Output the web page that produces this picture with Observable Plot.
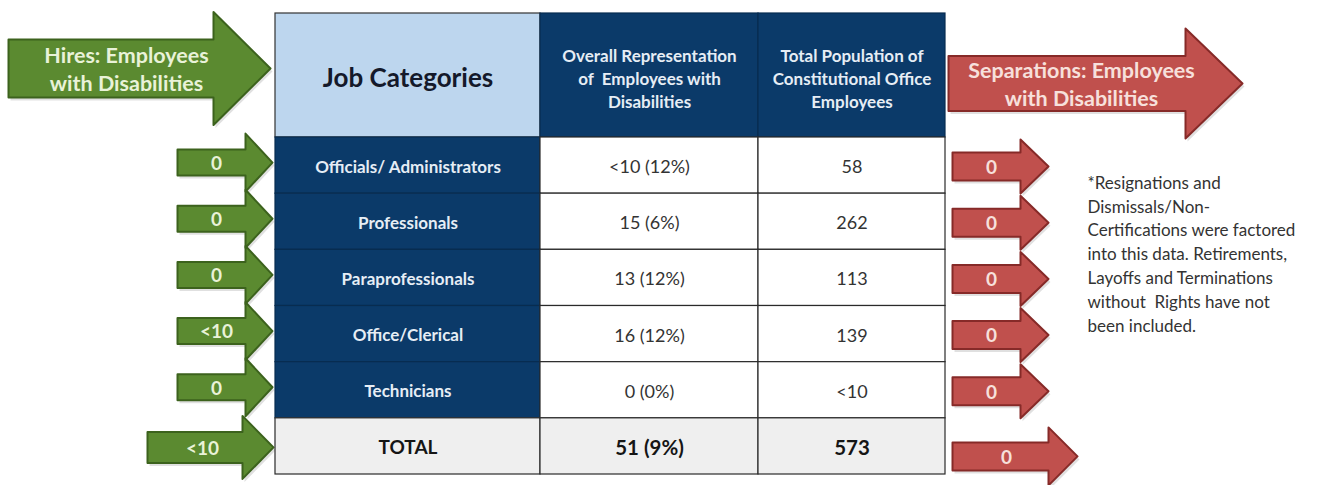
<!DOCTYPE html>
<html>
<head>
<meta charset="utf-8">
<script src="https://cdn.jsdelivr.net/npm/d3@7"></script>
<script src="https://cdn.jsdelivr.net/npm/@observablehq/plot@0.6"></script>
<style>
  html, body { margin: 0; padding: 0; background: #ffffff; }
  #chart svg { display: block; }
</style>
</head>
<body>
<div id="chart"></div>
<script>
// ---------------- data ----------------
const headers = [
  "Job Categories",
  "Overall Representation\nof  Employees with\nDisabilities",
  "Total Population of\nConstitutional Office\nEmployees"
];
const categories = ["Officials/ Administrators", "Professionals", "Paraprofessionals", "Office/Clerical", "Technicians"];
const representation = ["<10 (12%)", "15 (6%)", "13 (12%)", "16 (12%)", "0 (0%)"];
const population = ["58", "262", "113", "139", "<10"];
const hires = ["0", "0", "0", "<10", "0"];
const separations = ["0", "0", "0", "0", "0"];
const totalLabel = "TOTAL";
const totalRepresentation = "51 (9%)";
const totalPopulation = "573";
const totalHires = "<10";
const totalSeparations = "0";
const hiresTitle = "Hires: Employees\nwith Disabilities";
const separationsTitle = "Separations: Employees\nwith Disabilities";
const footnote = "*Resignations and\nDismissals/Non-\nCertifications were factored\ninto this data. Retirements,\nLayoffs and Terminations\nwithout  Rights have not\nbeen included.";

// ---------------- layout ----------------
const W = 1326, H = 485;
const FONT = "Lato, 'Open Sans', sans-serif";
const NAVY = "#0b3a69", NAVY_LINE = "#082c50", LIGHT_BLUE = "#bdd6ee", GRAY = "#efefef";
const GREEN = "#5b8a30", GREEN_DARK = "#3c621d", GREEN_TEXT = "#e9f2d8";
const RED = "#c0504d", RED_DARK = "#862a28", RED_TEXT = "#f7e0dc";
const colX = [275, 540, 758, 945];
const headTop = 13, headBot = 137, rowH = (474 - 137) / 6;
const rowTop = i => headBot + i * rowH;
const rowMid = i => headBot + (i + 0.5) * rowH;

const rows = categories.map((c, i) => ({
  cells: [c, representation[i], population[i]], hire: hires[i], sep: separations[i], total: false
}));
rows.push({cells: [totalLabel, totalRepresentation, totalPopulation], hire: totalHires, sep: totalSeparations, total: true});

// table cells
const cells = [];
headers.forEach((h, j) => cells.push({
  x1: colX[j], x2: colX[j + 1], y1: headTop, y2: headBot,
  fill: j === 0 ? LIGHT_BLUE : NAVY, stroke: j === 0 ? "#333" : NAVY_LINE,
  text: h, tx: (colX[j] + colX[j + 1]) / 2, ty: (headTop + headBot) / 2 + (j === 0 ? 1 : 2),
  style: j === 0 ? "jobhead" : "colhead"
}));
rows.forEach((r, i) => r.cells.forEach((t, j) => cells.push({
  x1: colX[j], x2: colX[j + 1], y1: rowTop(i), y2: rowTop(i + 1),
  fill: r.total ? GRAY : (j === 0 ? NAVY : "#ffffff"),
  stroke: (!r.total && j === 0) ? NAVY_LINE : "#2a2a2a",
  text: t, tx: (colX[j] + colX[j + 1]) / 2, ty: rowMid(i),
  style: r.total ? (j === 0 ? "totallabel" : "totalvalue") : (j === 0 ? "category" : "value")
})));
const textStyles = {
  jobhead:    {fill: "#14192a", fontSize: 26, fontWeight: "bold", lineHeight: 1.3},
  colhead:    {fill: "#e6edf5", fontSize: 17, fontWeight: "bold", lineHeight: 1.38},
  category:   {fill: "#e6edf5", fontSize: 17, fontWeight: "bold", lineHeight: 1.3},
  value:      {fill: "#333333", fontSize: 18, fontWeight: "normal", lineHeight: 1.3},
  totallabel: {fill: "#151515", fontSize: 19, fontWeight: "bold", lineHeight: 1.3},
  totalvalue: {fill: "#151515", fontSize: 20.5, fontWeight: "bold", lineHeight: 1.3}
};

// arrows
const arrows = [];
arrows.push({id: "gh", x0: 8, x1: 213, tip: 270, c: 68, s: 29, h: 56.5, kind: "g", text: hiresTitle, tx: 126, style: "title"});
arrows.push({id: "rh", x0: 948, x1: 1185, tip: 1242, c: 83, s: 27.5, h: 55, kind: "r", text: separationsTitle, tx: 1081, style: "title"});
rows.forEach((r, i) => {
  if (r.total) {
    arrows.push({id: "g" + i, x0: 147, x1: 242, tip: 273, c: rowMid(i) + 1, s: 15.5, h: 31.5, kind: "g", text: r.hire, tx: 202, style: "num"});
    arrows.push({id: "r" + i, x0: 952, x1: 1048, tip: 1077, c: rowMid(i) + 10, s: 14, h: 29, kind: "r", text: r.sep, tx: 1006, style: "num"});
  } else {
    arrows.push({id: "g" + i, x0: 177, x1: 245, tip: 272, c: rowMid(i) - 3, s: 13, h: 29, kind: "g", text: r.hire, tx: 216, style: "num"});
    arrows.push({id: "r" + i, x0: 952, x1: 1020, tip: 1048, c: rowMid(i) + 1, s: 14, h: 27, kind: "r", text: r.sep, tx: 991, style: "num"});
  }
});
const arrowPts = arrows.flatMap(a => [
  [a.x0, a.c - a.s], [a.x1, a.c - a.s], [a.x1, a.c - a.h], [a.tip, a.c],
  [a.x1, a.c + a.h], [a.x1, a.c + a.s], [a.x0, a.c + a.s]
].map(([x, y]) => ({id: a.id, kind: a.kind, x, y})));
const arrowTextStyles = {
  title: {fontSize: 21.5, lineHeight: 1.3},
  num:   {fontSize: 19, lineHeight: 1.2}
};

const marks = [
  // arrow shadows
  Plot.line(arrowPts, {x: "x", y: "y", z: "id", curve: "linear-closed", fill: "#000", fillOpacity: 0.12, stroke: "none", dx: 2, dy: 3}),
  Plot.line(arrowPts.filter(d => d.kind === "g"), {x: "x", y: "y", z: "id", curve: "linear-closed", fill: GREEN, stroke: GREEN_DARK, strokeWidth: 2}),
  Plot.line(arrowPts.filter(d => d.kind === "r"), {x: "x", y: "y", z: "id", curve: "linear-closed", fill: RED, stroke: RED_DARK, strokeWidth: 2})
];
for (const [key, st] of Object.entries(arrowTextStyles)) {
  for (const kind of ["g", "r"]) {
    marks.push(Plot.text(arrows.filter(a => a.style === key && a.kind === kind), {
      x: "tx", y: "c", text: "text", fill: kind === "g" ? GREEN_TEXT : RED_TEXT,
      fontWeight: "bold", fontFamily: FONT, ...st
    }));
  }
}
marks.push(Plot.rect(cells, {x1: "x1", x2: "x2", y1: "y1", y2: "y2", fill: "fill", stroke: "stroke", strokeWidth: 1.2}));
for (const [key, st] of Object.entries(textStyles)) {
  marks.push(Plot.text(cells.filter(c => c.style === key), {x: "tx", y: "ty", text: "text", fontFamily: FONT, ...st}));
}
marks.push(Plot.text([footnote], {x: 1087, y: 252, text: d => d, textAnchor: "start", lineAnchor: "middle",
  fontSize: 17, lineHeight: 1.4, fill: "#333333", fontFamily: FONT}));

const chart = Plot.plot({
  width: W, height: H,
  margin: 0,
  x: {type: "identity", axis: null},
  y: {type: "identity", axis: null},
  style: {background: "#ffffff", fontFamily: FONT},
  marks
});
document.getElementById("chart").appendChild(chart);
</script>
</body>
</html>
